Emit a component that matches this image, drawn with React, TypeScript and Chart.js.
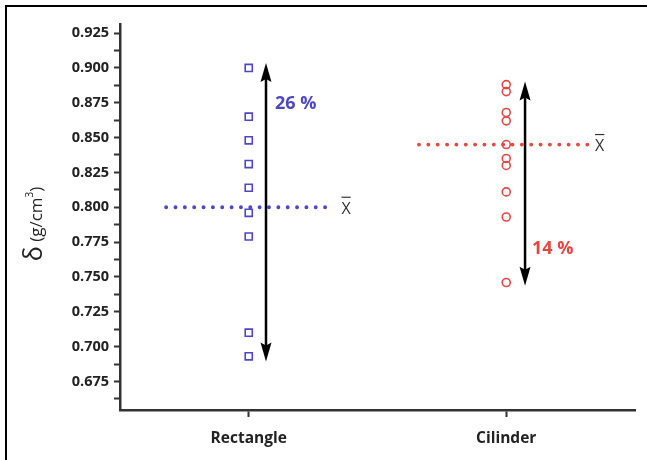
import React, { useEffect, useRef } from "react";
import { Chart, registerables } from "chart.js";

Chart.register(...registerables);

const categories = ["Rectangle", "Cilinder"];
const rectangleValues = [0.9, 0.865, 0.848, 0.831, 0.814, 0.796, 0.779, 0.71, 0.693];
const cilinderValues = [0.888, 0.883, 0.868, 0.862, 0.845, 0.835, 0.830, 0.811, 0.793, 0.746];
const majorTicks = [0.675, 0.7, 0.725, 0.75, 0.775, 0.8, 0.825, 0.85, 0.875, 0.9, 0.925];
const minorTicks = [0.6625, 0.6875, 0.7125, 0.7375, 0.7625, 0.7875, 0.8125, 0.8375, 0.8625, 0.8875, 0.9125];
const yMin = 0.6545;
const yMax = 0.9315;
const xMin = -0.5;
const xMax = 1.5;
const rectangleMean = 0.8;
const cilinderMean = 0.845;
const rectangleMeanSpan = [-0.321, 0.332];
const cilinderMeanSpan = [0.661, 1.319];
const xbarX = [0.36, 1.345];
// arrows: x, top, bottom
const rectangleArrow = [0.067, 0.9035, 0.6893];
const cilinderArrow = [1.073, 0.8903, 0.7436];
const percentLabels = ["26 %", "14 %"];
const percentPos = [
  [0.102, 0.8743],
  [1.1, 0.7702],
];

const BLUE = "#4b47c6";
const RED = "#e5473f";
const FONT = "'Open Sans', 'Noto Sans', sans-serif";

const annotationPlugin = {
  id: "annot",
  afterDatasetsDraw(chart: any) {
    const ctx = chart.ctx;
    const xs = chart.scales.x;
    const ys = chart.scales.y;
    ctx.save();
    [rectangleArrow, cilinderArrow].forEach((a) => {
      const x = xs.getPixelForValue(a[0]);
      const yt = ys.getPixelForValue(a[1]);
      const yb = ys.getPixelForValue(a[2]);
      ctx.strokeStyle = "#000";
      ctx.lineWidth = 2.5;
      ctx.beginPath();
      ctx.moveTo(x, yt + 10);
      ctx.lineTo(x, yb - 10);
      ctx.stroke();
      ctx.fillStyle = "#000";
      ctx.beginPath();
      ctx.moveTo(x, yt);
      ctx.lineTo(x - 5.5, yt + 19);
      ctx.lineTo(x, yt + 16);
      ctx.lineTo(x + 5.5, yt + 19);
      ctx.closePath();
      ctx.fill();
      ctx.beginPath();
      ctx.moveTo(x, yb);
      ctx.lineTo(x - 5.5, yb - 19);
      ctx.lineTo(x, yb - 16);
      ctx.lineTo(x + 5.5, yb - 19);
      ctx.closePath();
      ctx.fill();
    });
    ctx.font = `bold 18px ${FONT}`;
    ctx.textBaseline = "middle";
    ctx.textAlign = "left";
    percentLabels.forEach((t, i) => {
      ctx.fillStyle = i === 0 ? BLUE : RED;
      ctx.fillText(t, xs.getPixelForValue(percentPos[i][0]), ys.getPixelForValue(percentPos[i][1]));
    });
    ctx.font = `16px ${FONT}`;
    ctx.fillStyle = "#333";
    ctx.strokeStyle = "#333";
    ctx.lineWidth = 1.2;
    [rectangleMean, cilinderMean].forEach((m, i) => {
      const x = xs.getPixelForValue(xbarX[i]);
      const y = ys.getPixelForValue(m) + 2;
      ctx.fillText("X", x, y);
      const w = ctx.measureText("X").width;
      ctx.beginPath();
      ctx.moveTo(x, y - 12);
      ctx.lineTo(x + w, y - 12);
      ctx.stroke();
    });
    ctx.restore();
  },
  afterDraw(chart: any) {
    const ctx = chart.ctx;
    const ys = chart.scales.y;
    const cy = (ys.top + ys.bottom) / 2 + 7;
    const cx = 34;
    ctx.save();
    ctx.translate(cx, cy);
    ctx.rotate(-Math.PI / 2);
    ctx.fillStyle = "#222";
    ctx.textBaseline = "alphabetic";
    ctx.textAlign = "left";
    const parts = [
      { t: "δ", f: `25px ${FONT}`, dy: 0 },
      { t: " (g/cm", f: `17px ${FONT}`, dy: 0 },
      { t: "3", f: `10px ${FONT}`, dy: -9 },
      { t: ")", f: `17px ${FONT}`, dy: 0 },
    ];
    let total = 0;
    parts.forEach((p) => {
      ctx.font = p.f;
      total += ctx.measureText(p.t).width;
    });
    let x = -total / 2;
    parts.forEach((p) => {
      ctx.font = p.f;
      ctx.fillText(p.t, x, 8 + p.dy);
      x += ctx.measureText(p.t).width;
    });
    ctx.restore();
  },
};

export default function App() {
  const ref = useRef<HTMLCanvasElement>(null);
  useEffect(() => {
    if (!ref.current) return;
    const dotted = (color: string) => ({
      borderColor: color,
      borderWidth: 3.8,
      borderDash: [0.1, 9.25],
      borderCapStyle: "round" as const,
      pointRadius: 0,
      showLine: true,
      fill: false,
    });
    const chart = new Chart(ref.current, {
      type: "scatter",
      data: {
        datasets: [
          {
            label: "Rectangle mean",
            data: rectangleMeanSpan.map((x) => ({ x, y: rectangleMean })),
            ...dotted(BLUE),
          },
          {
            label: "Cilinder mean",
            data: cilinderMeanSpan.map((x) => ({ x, y: cilinderMean })),
            ...dotted(RED),
          },
          {
            label: categories[0],
            data: rectangleValues.map((y) => ({ x: 0, y })),
            pointStyle: "rect",
            pointRadius: 5,
            borderColor: BLUE,
            backgroundColor: "rgba(0,0,0,0)",
            borderWidth: 1.6,
          },
          {
            label: categories[1],
            data: cilinderValues.map((y) => ({ x: 1, y })),
            pointStyle: "circle",
            pointRadius: 4,
            borderColor: RED,
            backgroundColor: "rgba(0,0,0,0)",
            borderWidth: 1.6,
          },
        ],
      },
      options: {
        animation: false,
        responsive: false,
        layout: { padding: { left: 0, right: 12, top: 24, bottom: 0 } },
        plugins: { legend: { display: false }, tooltip: { enabled: false } },
        scales: {
          x: {
            type: "linear",
            min: xMin,
            max: xMax,
            afterBuildTicks: (s: any) => {
              s.ticks = categories.map((_, i) => ({ value: i }));
            },
            afterFit: (s: any) => {
              s.height = 50;
            },
            ticks: {
              callback: (v: any) => categories[v] ?? "",
              color: "#222",
              font: { family: FONT, size: 15.5, weight: "bold" },
              padding: 12,
              maxRotation: 0,
              autoSkip: false,
            },
            grid: { drawOnChartArea: false, tickLength: 7, tickWidth: 2, tickColor: "#333" },
            border: { color: "#333", width: 2.5 },
          },
          y: {
            type: "linear",
            min: yMin,
            max: yMax,
            afterBuildTicks: (s: any) => {
              s.ticks = [...majorTicks, ...minorTicks].sort((a, b) => a - b).map((v) => ({ value: v }));
            },
            afterFit: (s: any) => {
              s.width = 120;
            },
            ticks: {
              callback: (v: any) => (majorTicks.some((m) => Math.abs(m - v) < 1e-6) ? Number(v).toFixed(3) : ""),
              color: "#222",
              font: { family: FONT, size: 14.5, weight: "bold" },
              padding: 5,
              autoSkip: false,
            },
            grid: { drawOnChartArea: false, tickLength: 6, tickWidth: 2, tickColor: "#333" },
            border: { color: "#333", width: 2.5 },
          },
        },
      },
      plugins: [annotationPlugin],
    } as any);
    return () => chart.destroy();
  }, []);
  return (
    <div style={{ position: "fixed", left: 0, top: 0, width: 647, height: 460, overflow: "hidden", background: "#fff" }}>
      <div
        style={{
          position: "absolute",
          left: 5,
          top: 5,
          width: 700,
          height: 520,
          border: "2px solid #000",
        }}
      />
      <canvas ref={ref} width={647} height={460} style={{ position: "absolute", left: 0, top: 0 }} />
    </div>
  );
}
